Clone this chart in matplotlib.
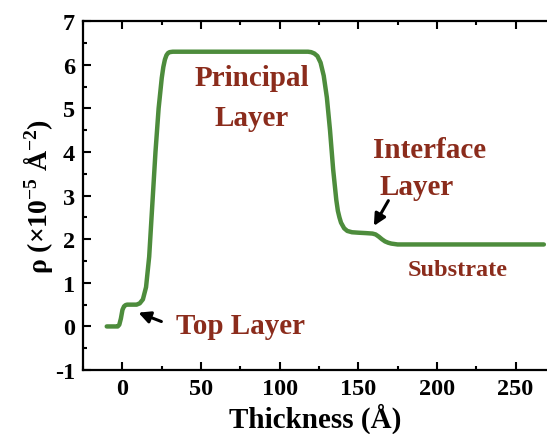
import matplotlib
matplotlib.use('Agg')
import matplotlib.pyplot as plt

# SLD profile
thickness = [-10, -3, -2, -1, 0, 1, 2, 3, 6, 9, 11, 13, 15, 17, 19, 21, 23, 25, 26, 27, 28, 29, 30, 32, 40,
             60, 80, 100, 115, 118, 120, 122, 124, 126, 128, 130, 132, 134, 136, 137, 138, 139, 141, 143, 146,
             150, 155, 159, 161, 163, 165, 167, 169, 171, 175, 190, 220, 250, 268]
rho = [0, 0, 0.04, 0.18, 0.38, 0.46, 0.49, 0.5, 0.5, 0.5, 0.53, 0.62, 0.9, 1.6, 2.8, 4.0, 5.0, 5.7, 5.95, 6.12, 6.22, 6.27, 6.29, 6.3, 6.3,
       6.3, 6.3, 6.3, 6.3, 6.3, 6.29, 6.26, 6.2, 6.05, 5.75, 5.25, 4.5, 3.6, 2.9, 2.65, 2.5, 2.38, 2.25, 2.19, 2.16,
       2.15, 2.14, 2.13, 2.11, 2.06, 2.0, 1.95, 1.92, 1.9, 1.88, 1.88, 1.88, 1.88, 1.88]

x_ticks = [0, 50, 100, 150, 200, 250]
y_ticks = [-1, 0, 1, 2, 3, 4, 5, 6, 7]

plt.rcParams['font.family'] = 'Liberation Serif'
plt.rcParams['font.weight'] = 'bold'
plt.rcParams['axes.unicode_minus'] = False
plt.rcParams['mathtext.fontset'] = 'custom'
plt.rcParams['mathtext.rm'] = 'Liberation Serif:bold'
plt.rcParams['mathtext.it'] = 'Liberation Serif:bold'
plt.rcParams['mathtext.bf'] = 'Liberation Serif:bold'

green = '#4d8c3c'
red = '#8b2c1c'

fig = plt.figure(figsize=(5.47, 4.35), dpi=100)
ax = fig.add_axes([0.152, 0.147, 0.848, 0.802])
ax.plot(thickness, rho, color=green, lw=3.2, solid_capstyle='round', solid_joinstyle='round')

ax.set_xlim(-25, 270)
ax.set_ylim(-1, 7)
ax.set_xticks(x_ticks)
ax.set_yticks(y_ticks)
ax.set_xticks([-25, 25, 75, 125, 175, 225], minor=True)
ax.set_yticks([-0.5, 0.5, 1.5, 2.5, 3.5, 4.5, 5.5, 6.5], minor=True)
ax.tick_params(which='both', direction='in', top=True, width=1.5)
ax.tick_params(which='major', length=6, labelsize=17.5, pad=6)
ax.tick_params(which='minor', length=3)
for lab in ax.get_xticklabels() + ax.get_yticklabels():
    lab.set_fontweight('bold')
for s in ['left', 'bottom', 'top']:
    ax.spines[s].set_linewidth(1.6)
ax.spines['right'].set_visible(False)

ax.set_xlabel('Thickness (Å)', fontsize=21, fontweight='bold', labelpad=2)
ax.set_ylabel('ρ (×10$^{-5}$ Å$^{-2}$)', fontsize=20, fontweight='bold', labelpad=0)

ax.text(82, 5.71, 'Principal', color=red, fontsize=21, fontweight='bold', ha='center', va='center')
ax.text(82, 4.79, 'Layer', color=red, fontsize=21, fontweight='bold', ha='center', va='center')
ax.text(195, 4.06, 'Interface', color=red, fontsize=21, fontweight='bold', ha='center', va='center')
ax.text(187, 3.2, 'Layer', color=red, fontsize=21, fontweight='bold', ha='center', va='center')
ax.text(213.5, 1.31, 'Substrate', color=red, fontsize=17.5, fontweight='bold', ha='center', va='center')
ax.text(34, 0.03, 'Top Layer', color=red, fontsize=21, fontweight='bold', ha='left', va='center')

arrow = dict(arrowstyle='-|>,head_length=0.7,head_width=0.35', color='black', lw=2.2)
ax.annotate('', xy=(8.5, 0.34), xytext=(26.4, 0.09), arrowprops=arrow)
ax.annotate('', xy=(159, 2.25), xytext=(170, 2.94), arrowprops=arrow)

fig.savefig('out.png', dpi=100)
